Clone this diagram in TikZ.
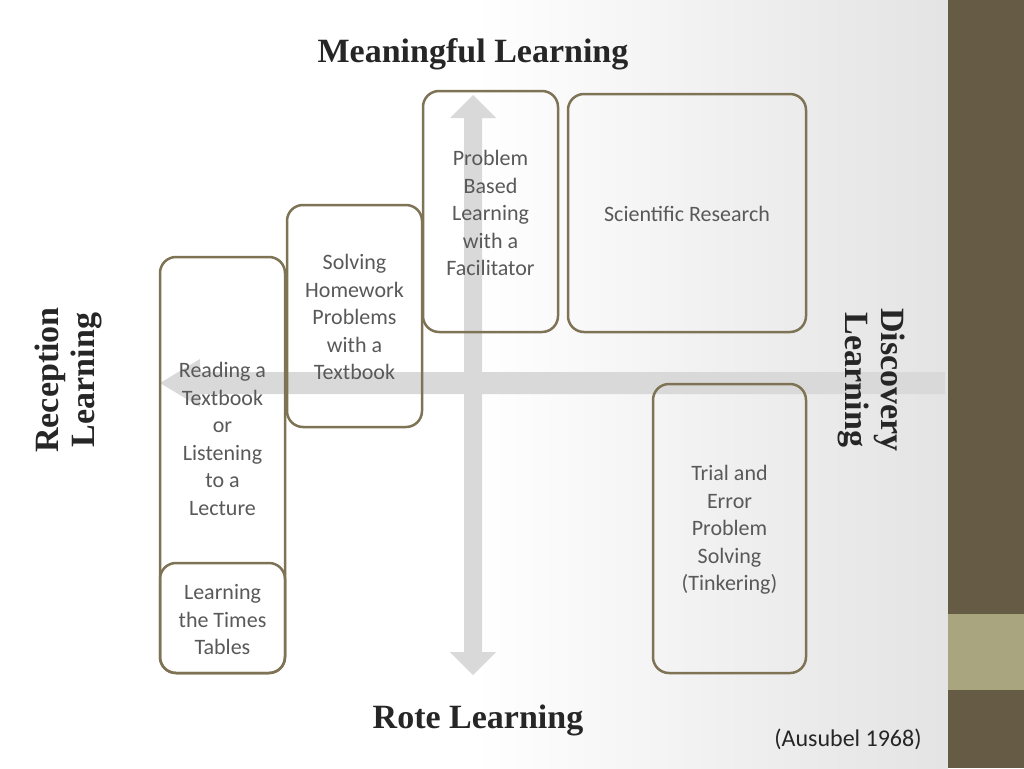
\documentclass[tikz,border=0pt]{standalone}
\usepackage{fontspec}
\setmainfont{Carlito}
\newfontfamily\titlefont{Liberation Serif}
\usetikzlibrary{arrows.meta}
\definecolor{bord}{HTML}{7F7356}
\definecolor{txt}{HTML}{595959}
\definecolor{bar}{HTML}{665B45}
\definecolor{khaki}{HTML}{A8A57F}
\definecolor{arr}{HTML}{D9D9D9}
\pgfdeclarehorizontalshading{bgshade}{100bp}{color(0bp)=(white); color(50bp)=(white); color(68bp)=(black!8); color(100bp)=(black!20)}
\begin{document}
\begin{tikzpicture}[x=1pt,y=-1pt,
  box/.style={draw=bord,line width=2.5pt,rounded corners=16pt},
  lbl/.style={text=txt,font=\fontsize{22}{27.5}\selectfont,align=center},
  ttl/.style={text=black!85,font=\titlefont\bfseries\fontsize{34}{36}\selectfont,align=center}]
\useasboundingbox (0,0) rectangle (1024,768);
\shade[shading=bgshade] (0,0) rectangle (948,768);
\fill[bar] (948,0) rectangle (1024,768);
\fill[khaki] (948,614) rectangle (1024,690);
% arrows
\coordinate (vt) at (473,95); \coordinate (vb) at (473,675);
\coordinate (hl) at (160,383);
\fill[arr] (vt) -- (496,118) -- (482,118) -- (482,652) -- (496,652) -- (vb) -- (450,652) -- (464,652) -- (464,118) -- (450,118) -- cycle;
\fill[arr] (hl) -- (200,359) -- (200,372) -- (945,372) -- (945,394) -- (200,394) -- (200,407) -- cycle;
% boxes
\node[box,minimum width=125pt,minimum height=416pt] (read) at (222.5,465) {};
\node[lbl] (readt) at (222.5,439) {Reading a\\Textbook\\or\\Listening\\to a\\Lecture};
\node[box,minimum width=125pt,minimum height=110pt] (times) at (222.5,618) {};
\node[lbl] (timest) at (222.5,620) {Learning\\the Times\\Tables};
\node[box,minimum width=135pt,minimum height=222pt] (solve) at (354.5,316) {};
\node[lbl] (solvet) at (354.5,317) {Solving\\Homework\\Problems\\with a\\Textbook};
\node[box,minimum width=135pt,minimum height=241pt] (pbl) at (490.5,211.5) {};
\node[lbl] (pblt) at (490.5,213) {Problem\\Based\\Learning\\with a\\Facilitator};
\node[box,minimum width=238pt,minimum height=238pt] (sci) at (687,213) {};
\node[lbl] (scit) at (687,214) {Scientific Research};
\node[box,minimum width=153pt,minimum height=289pt] (trial) at (729.5,528.5) {};
\node[lbl] (trialt) at (729.5,530) {Trial and\\Error\\Problem\\Solving\\(Tinkering)};
% titles
\node[ttl] (ml) at (473,54) {Meaningful Learning};
\node[ttl] (rl) at (478,720) {Rote Learning};
\node[ttl,rotate=90] (rec) at (68,380) {Reception\\Learning};
\node[ttl,rotate=-90] (dis) at (872,380) {Discovery\\Learning};
\node[text=black!85,font=\fontsize{24}{26}\selectfont] (aus) at (848,739) {(Ausubel 1968)};
\end{tikzpicture}
\end{document}
